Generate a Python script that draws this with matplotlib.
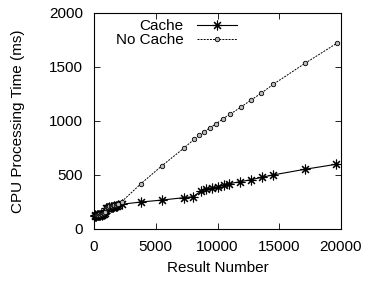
import matplotlib
matplotlib.use("Agg")
import matplotlib.pyplot as plt

plt.rcParams['font.family'] = ['Liberation Sans', 'DejaVu Sans']

# Data
cache_x = [50, 120, 180, 250, 320, 400, 470, 550, 620, 700, 780, 860,
           950, 1050, 1150, 1250, 1350, 1450, 1550, 1650, 1750, 1850, 1950, 2240,
           3806, 5506, 7260, 8042, 8664, 9100, 9555, 10040, 10500, 10960,
           11850, 12700, 13576, 14470, 17085, 19595]
cache_y = [125, 128, 122, 130, 126, 132, 128, 135, 130, 138, 140, 150,
           190, 195, 198, 200, 205, 203, 208, 212, 210, 215, 218, 229,
           250, 268, 290, 299, 352, 367, 377, 389, 404, 420,
           438, 456, 478, 500, 553, 599]

nocache_x = [50, 120, 180, 250, 320, 400, 470, 550, 620, 700, 780, 860,
             950, 1050, 1150, 1250, 1350, 1450, 1550, 1650, 1750, 1850, 1950, 2240,
             3806, 5506, 7260, 8097, 8502, 8934, 9393, 9879, 10418, 11012,
             11876, 12713, 13522, 14520, 17085, 19650]
nocache_y = [128, 132, 126, 134, 130, 137, 133, 140, 136, 144, 147, 158,
             198, 203, 207, 210, 215, 214, 220, 225, 224, 230, 234, 253,
             420, 586, 747, 830, 867, 901, 938, 972, 1019, 1062,
             1127, 1194, 1256, 1340, 1534, 1719]

xticks = [0, 5000, 10000, 15000, 20000]
yticks = [0, 500, 1000, 1500, 2000]

FS = 11

fig = plt.figure(figsize=(3.67, 2.81), dpi=100)
ax = fig.add_axes([94/367, 1 - 229/281, (341-94)/367, (229-13)/281])

ax.plot(cache_x, cache_y, color='black', lw=0.8, marker=(8, 2, 0),
        markersize=7, markeredgewidth=0.8, label='Cache', clip_on=False)
ax.plot(nocache_x, nocache_y, color='black', lw=0.7, ls=(0, (2, 1.2)),
        marker='o', markersize=3.2, markerfacecolor='#bbbbbb',
        markeredgecolor='black', markeredgewidth=0.6, label='No Cache',
        clip_on=False)

ax.set_xlim(0, 20000)
ax.set_ylim(0, 2000)
ax.set_xticks(xticks)
ax.set_yticks(yticks)
ax.tick_params(direction='in', top=True, right=True, labelsize=FS,
               length=4, width=0.6)
ax.tick_params(axis='y', pad=8)
ax.tick_params(axis='x', pad=8)
for s in ax.spines.values():
    s.set_linewidth(0.8)
ax.set_xlabel('Result Number', fontsize=FS, va='top')
ax.set_ylabel('CPU Processing Time (ms)', fontsize=FS)
ax.xaxis.set_label_coords(0.5, (229 - 261) / 216)
ax.yaxis.set_label_coords((25 - 94) / 247, 0.5)

leg = ax.legend(loc='upper right', bbox_to_anchor=((237 - 94) / 247, (229 - 19) / 216),
                frameon=False, markerfirst=False, fontsize=FS, handlelength=2.6,
                handletextpad=0.9, labelspacing=0.0, borderaxespad=0, borderpad=0)
for t in leg.get_texts():
    t.set_ha('right')
leg._legend_box.align = 'right'

fig.savefig('out.png', dpi=100)
